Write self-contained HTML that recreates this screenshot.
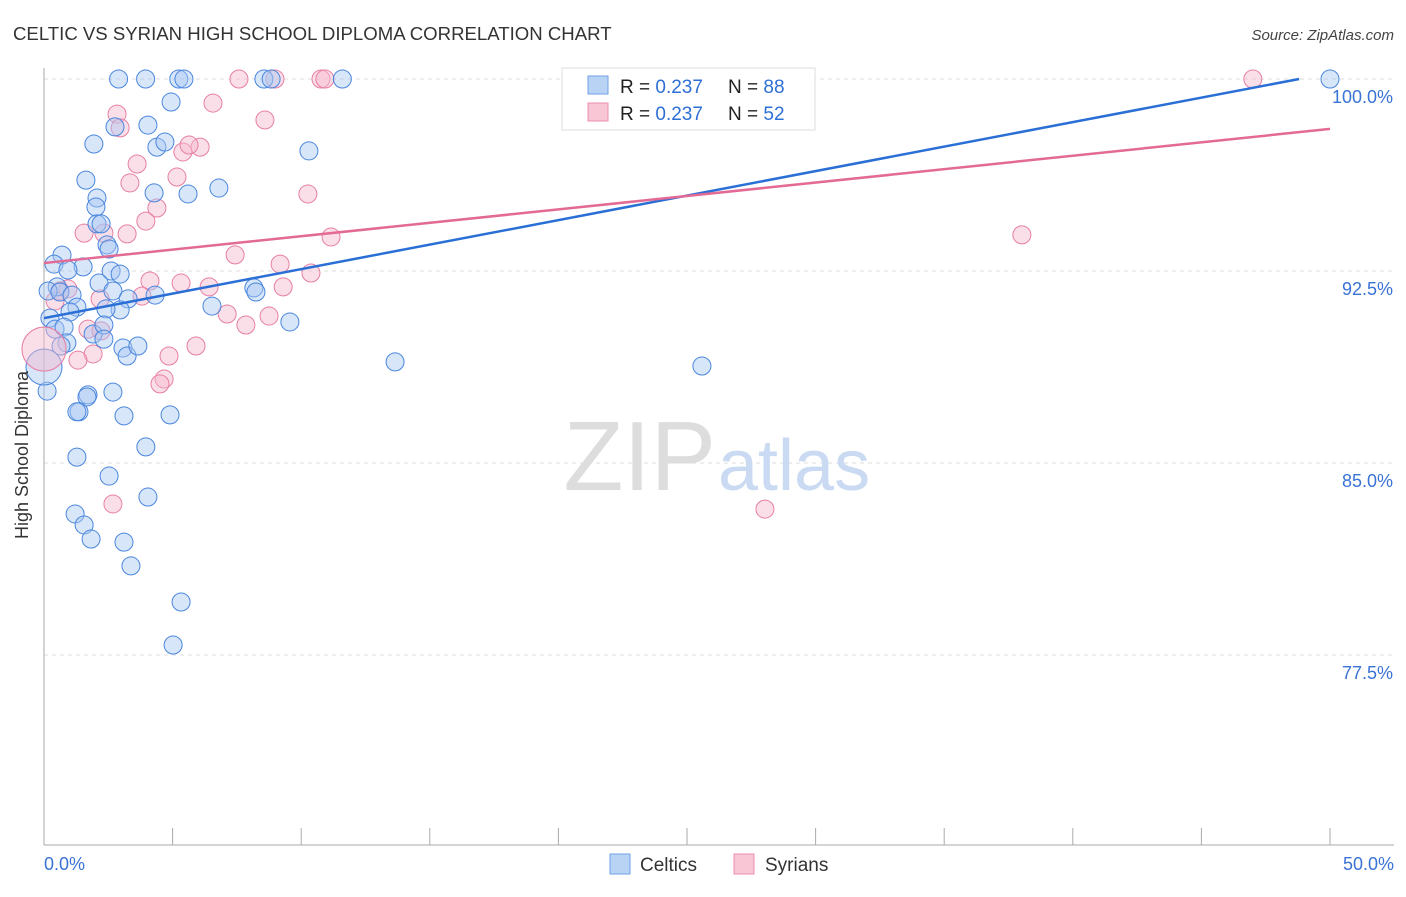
<!DOCTYPE html>
<html><head><meta charset="utf-8"><style>
body{margin:0;background:#fff;font-family:"Liberation Sans",sans-serif;}
svg text{font-family:"Liberation Sans",sans-serif;}
</style></head><body>
<svg width="1406" height="892" xmlns="http://www.w3.org/2000/svg">
<text x="13" y="40" font-size="18.6" fill="#333">CELTIC VS SYRIAN HIGH SCHOOL DIPLOMA CORRELATION CHART</text>
<text x="1394" y="40" font-size="15" fill="#444" text-anchor="end" font-style="italic">Source: ZipAtlas.com</text>
<g id="grid"></g>
<text x="716" y="490" font-size="98" fill="#ddd" text-anchor="end" font-family="Liberation Serif">ZIP</text>
<text x="718" y="490" font-size="72" fill="#c9daf2">atlas</text>
<g id="pts"></g>
<g id="lines"></g>
<text x="28" y="455" font-size="18" fill="#333" text-anchor="middle" transform="rotate(-90 28 455)">High School Diploma</text>
<text x="44" y="870" font-size="18" fill="#3a73d6">0.0%</text>
<text x="1394" y="870" font-size="18" fill="#3a73d6" text-anchor="end">50.0%</text>
<g>
<rect x="562" y="68" width="253" height="62" fill="#fff" stroke="#ddd"/>
<rect x="588" y="76" width="20" height="18" fill="#b9d3f5" stroke="#6fa0e6"/>
<rect x="588" y="103" width="20" height="18" fill="#f9c6d6" stroke="#ec8fae"/>
<text x="620" y="93" font-size="19" fill="#222">R = <tspan fill="#2e6fd6">0.237</tspan><tspan x="728">N = </tspan><tspan fill="#2e6fd6">88</tspan></text>
<text x="620" y="120" font-size="19" fill="#222">R = <tspan fill="#2e6fd6">0.237</tspan><tspan x="728">N = </tspan><tspan fill="#2e6fd6">52</tspan></text>
</g>
<g>
<rect x="610" y="854" width="20" height="20" fill="#b9d3f5" stroke="#6fa0e6"/>
<text x="640" y="871" font-size="19" fill="#333">Celtics</text>
<rect x="734" y="854" width="20" height="20" fill="#f9c6d6" stroke="#ec8fae"/>
<text x="765" y="871" font-size="19" fill="#333">Syrians</text>
</g>
</svg>
<script>
const yTicks=[100,92.5,85,77.5];
const yTickLabels=["100.0%","92.5%","85.0%","77.5%"];
const celticsX=[2.90,3.95,5.24,5.44,8.55,8.83,11.6,50,4.94,4.04,2.76,1.94,4.39,4.70,10.3,1.63,6.80,2.06,4.28,5.60,2.02,2.06,2.22,2.45,2.53,0.70,0.39,1.52,0.93,2.61,2.96,2.14,0.51,0.16,0.62,1.09,2.68,3.27,4.32,8.16,8.24,6.53,2.96,2.41,1.28,0.23,1.01,0.43,0.78,1.91,2.33,2.33,9.56,0.89,0.66,3.07,3.23,3.65,13.65,25.58,0.12,2.68,1.71,1.67,1.36,1.28,3.11,4.90,3.96,1.28,2.53,4.04,1.21,1.56,1.83,3.11,3.38,5.33,5.02];
const celticsY=[100,100,100,100,100,100,100,100,99.10,98.20,98.13,97.46,97.34,97.54,97.19,96.05,95.74,95.35,95.55,95.51,95.00,94.34,94.34,93.52,93.36,93.12,92.77,92.66,92.54,92.50,92.38,92.03,91.88,91.72,91.68,91.56,91.72,91.41,91.56,91.84,91.68,91.13,90.98,91.02,91.09,90.66,90.90,90.23,90.31,90.04,90.39,89.84,90.51,89.69,89.57,89.49,89.18,89.57,88.95,88.79,87.81,87.77,87.66,87.58,87.00,87.00,86.84,86.88,85.63,85.23,84.49,83.67,83.01,82.58,82.03,81.91,80.98,79.57,77.89];
const syriansX=[7.58,8.98,10.77,10.92,27.84,47.00,6.57,2.84,8.59,2.96,3.62,5.40,6.07,5.64,3.34,5.17,10.26,4.39,3.96,1.56,2.33,3.23,11.16,7.43,38.02,9.18,4.12,5.33,6.42,9.30,10.38,3.81,2.18,0.93,0.62,0.43,7.12,8.75,7.85,1.71,2.22,5.91,4.86,1.91,1.32,4.67,4.51,2.68,28.03];
const syriansY=[100,100,100,100,100,100,99.06,98.63,98.40,98.09,96.68,97.15,97.34,97.42,95.94,96.17,95.51,94.96,94.45,93.98,93.98,93.95,93.83,93.13,93.91,92.77,92.11,92.03,91.88,91.88,92.42,91.52,91.41,91.80,91.72,91.33,90.82,90.74,90.39,90.23,90.16,89.57,89.18,89.26,89.02,88.28,88.09,83.40,83.20];
const bigX=[0,0], bigY=[88.75,89.45], bigR=[18,22];
const trendBlue=[[0,90.66],[48.8,100]];
const trendPink=[[0,92.81],[50,98.05]];
const NS="http://www.w3.org/2000/svg";
const X=v=>44+v/50*1286, Y=v=>79+(100-v)*25.6;
function mk(t,a,p){const e=document.createElementNS(NS,t);for(const k in a)e.setAttribute(k,a[k]);p.appendChild(e);return e;}
const grid=document.getElementById('grid');
yTicks.forEach((t,i)=>{
 const l=mk('line',{x1:44,x2:1394,y1:Y(t),y2:Y(t),stroke:'#ddd','stroke-dasharray':'4,4'},grid);
 
 
 const tx=mk('text',{x:1393,y:Y(t)+24,'font-size':18,fill:'#3a73d6','text-anchor':'end'},grid);
 tx.textContent=yTickLabels[i];
 
 
});
const ax=mk('line',{x1:44,x2:44,y1:68,y2:845,stroke:'#aaa'},grid);


const bx=mk('line',{x1:44,x2:1394,y1:845,y2:845,stroke:'#aaa'},grid);


for(let i=0;i<=10;i++){const t=mk('line',{x1:X(i*5),x2:X(i*5),y1:828,y2:845,stroke:'#aaa'},grid);
 
 }
const pts=document.getElementById('pts');
function dots(xs,ys,fill,st,name,rs){xs.forEach((x,i)=>{const c=mk('circle',{cx:X(x),cy:Y(ys[i]),r:rs?rs[i]:9,fill:fill,'fill-opacity':0.45,stroke:st,'stroke-width':1},pts);
 
 });}
dots(syriansX,syriansY,'#f7b8cc','#e77fa3','syrians-point');
dots(celticsX,celticsY,'#a9c8f2','#4a86de','celtics-point');
dots([bigX[0]],[bigY[0]],'#a9c8f2','#4a86de','celtics-point',[bigR[0]]);
dots([bigX[1]],[bigY[1]],'#f7b8cc','#e77fa3','syrians-point',[bigR[1]]);
const lines=document.getElementById('lines');
const lb=mk('line',{x1:X(trendBlue[0][0]),y1:Y(trendBlue[0][1]),x2:X(trendBlue[1][0]),y2:Y(trendBlue[1][1]),stroke:'#2a6fd6','stroke-width':2.5},lines);


const lp=mk('line',{x1:X(trendPink[0][0]),y1:Y(trendPink[0][1]),x2:X(trendPink[1][0]),y2:Y(trendPink[1][1]),stroke:'#e26a95','stroke-width':2.5},lines);


</script>
</body></html>
